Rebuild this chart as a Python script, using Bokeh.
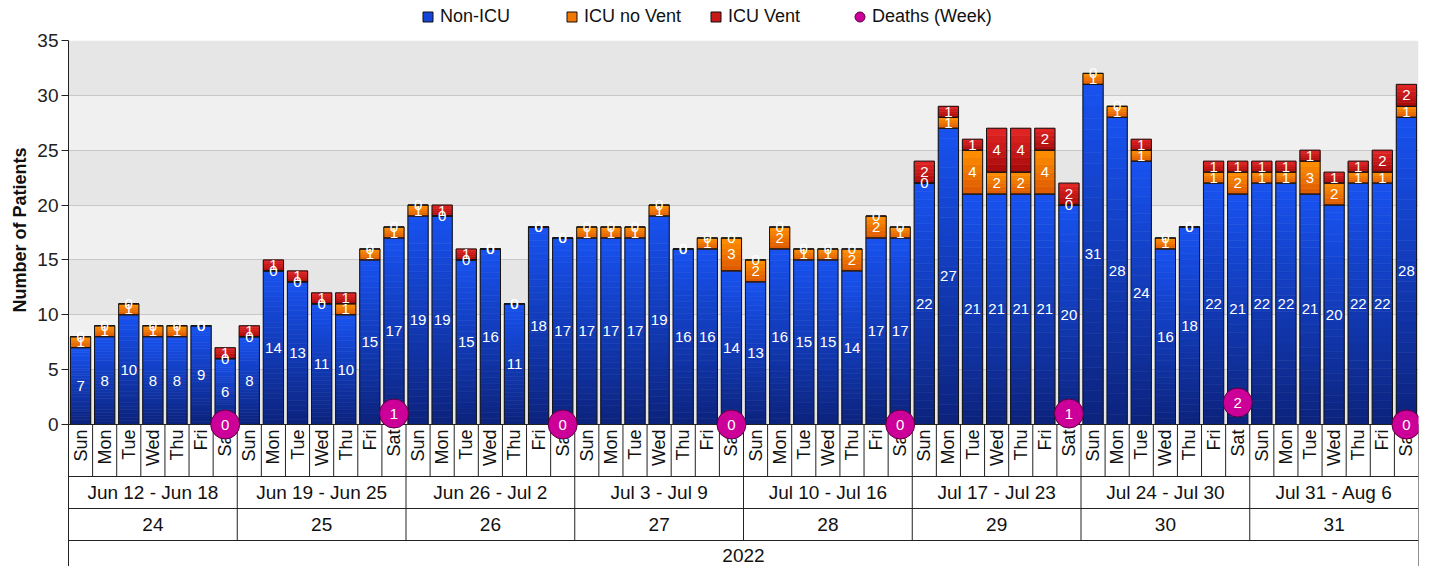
import numpy as np
from math import pi
from bokeh.plotting import figure
from bokeh.layouts import column
from bokeh.models import (ColumnDataSource, Range1d, FixedTicker, BoxAnnotation,
                          Legend, LegendItem, Title)
from bokeh.core.properties import value
from bokeh.embed import file_html
from bokeh.resources import INLINE

# ---------------- data ----------------
days = ["Sun", "Mon", "Tue", "Wed", "Thu", "Fri", "Sat"]
week_ranges = ["Jun 12 - Jun 18", "Jun 19 - Jun 25", "Jun 26 - Jul 2", "Jul 3 - Jul 9",
               "Jul 10 - Jul 16", "Jul 17 - Jul 23", "Jul 24 - Jul 30", "Jul 31 - Aug 6"]
week_numbers = ["24", "25", "26", "27", "28", "29", "30", "31"]
year_label = "2022"
series_names = ["Non-ICU", "ICU no Vent", "ICU Vent", "Deaths (Week)"]

non_icu = [7, 8, 10, 8, 8, 9, 6,
           8, 14, 13, 11, 10, 15, 17,
           19, 19, 15, 16, 11, 18, 17,
           17, 17, 17, 19, 16, 16, 14,
           13, 16, 15, 15, 14, 17, 17,
           22, 27, 21, 21, 21, 21, 20,
           31, 28, 24, 16, 18, 22, 21,
           22, 22, 21, 20, 22, 22, 28]
icu_no_vent = [1, 1, 1, 1, 1, 0, 0,
               0, 0, 0, 0, 1, 1, 1,
               1, 0, 0, 0, 0, 0, 0,
               1, 1, 1, 1, 0, 1, 3,
               2, 2, 1, 1, 2, 2, 1,
               0, 1, 4, 2, 2, 4, 0,
               1, 1, 1, 1, 0, 1, 2,
               1, 1, 3, 2, 1, 1, 1]
icu_vent = [0, 0, 0, 0, 0, 0, 1,
            1, 1, 1, 1, 1, 0, 0,
            0, 1, 1, 0, 0, 0, 0,
            0, 0, 0, 0, 0, 0, 0,
            0, 0, 0, 0, 0, 0, 0,
            2, 1, 1, 4, 4, 2, 2,
            0, 0, 1, 0, 0, 1, 1,
            1, 1, 1, 1, 1, 2, 2]
deaths_week = [0, 1, 0, 0, 0, 1, 2, 0]

# ---------------- layout constants ----------------
FONT = "Liberation Sans"
W = 1421
LEG_H = 30
TOP_PAD = 10
FRAME_H = 526
n = len(non_icu)
nweeks = len(week_ranges)
PXU = 384.0 / 35.0            # pixels per y unit
Y_BOT = 35 - FRAME_H / PXU
ROW1 = -52 / PXU               # bottom of day row
ROW2 = -84 / PXU               # bottom of week-range row
ROW3 = -116 / PXU              # bottom of week-number row

x = np.arange(n) + 0.5
non_icu_a = np.array(non_icu, dtype=float)
nv_a = np.array(icu_no_vent, dtype=float)
v_a = np.array(icu_vent, dtype=float)

p = figure(width=W, height=FRAME_H + TOP_PAD, x_range=Range1d(0, n),
           y_range=Range1d(Y_BOT, 35),
           output_backend="svg", toolbar_location=None, x_axis_type=None,
           min_border_left=68, min_border_right=3, min_border_top=TOP_PAD,
           min_border_bottom=0)
p.background_fill_color = "white"
p.border_fill_color = "white"
p.outline_line_color = None
p.xgrid.visible = False
p.ygrid.ticker = FixedTicker(ticks=[5, 10, 15, 20, 25, 30, 35])
p.ygrid.grid_line_color = "#c8c8c8"

# alternating background bands
for k in range(7):
    top = 35 - 5 * k
    p.add_layout(BoxAnnotation(bottom=top - 5, top=top,
                               fill_color="#e6e6e6" if k % 2 == 0 else "#f0f0f0",
                               fill_alpha=1, line_color=None, level="image"))

# y axis
ya = p.yaxis[0]
ya.ticker = FixedTicker(ticks=[0, 5, 10, 15, 20, 25, 30, 35])
ya.major_label_text_font = FONT
ya.major_label_text_font_size = "19px"
ya.major_label_text_color = "#222222"
ya.major_tick_out = 7
ya.major_tick_in = 0
ya.minor_tick_out = 0
ya.minor_tick_in = 0
ya.major_label_standoff = 3
ya.axis_line_color = "#222222"
ya.major_tick_line_color = "#222222"

p.add_layout(Title(text="Number of Patients", align="right", offset=107, standoff=10,
                   text_font=FONT, text_font_size="18px", text_font_style="bold",
                   text_color="#111111"), "left")


def hex2rgb(h):
    h = h.lstrip("#")
    return np.array([int(h[i:i + 2], 16) for i in (0, 2, 4)], dtype=float)


def rgb2hex(c):
    return "#%02x%02x%02x" % tuple(int(round(v)) for v in c)


BW = 0.84


def gradient(base, height, top_col, bot_col, steps):
    xs, bs, ts, cs = [], [], [], []
    tc, bc = hex2rgb(top_col), hex2rgb(bot_col)
    for i in range(n):
        h = height[i]
        if h <= 0:
            continue
        for k in range(steps):
            t = (k + 0.5) / steps
            xs.append(x[i])
            bs.append(base[i] + h * k / steps)
            ts.append(base[i] + h * (k + 1) / steps)
            cs.append(rgb2hex(bc + (tc - bc) * t))
    src = ColumnDataSource(dict(x=xs, bottom=bs, top=ts, color=cs))
    p.vbar(x="x", bottom="bottom", top="top", width=BW, source=src,
           fill_color="color", line_color="color", line_width=0.6)


b0 = np.zeros(n)
b1 = non_icu_a
b2 = non_icu_a + nv_a
b3 = b2 + v_a

gradient(b0, non_icu_a, "#1852f0", "#0c237c", 30)
gradient(b1, nv_a, "#ff9000", "#dc5800", 6)
gradient(b2, v_a, "#e42626", "#a60a0a", 6)

# segment outlines
for bot, top in ((b0, b1), (b1, b2), (b2, b3)):
    p.vbar(x=x, bottom=bot, top=top, width=BW, fill_alpha=0,
           line_color="#151515", line_width=1)

# segment labels
lab_x = np.concatenate([x, x, x])
lab_y = np.concatenate([non_icu_a / 2, b1 + nv_a / 2, b2 + v_a / 2])
lab_t = [str(v) for v in non_icu] + [str(v) for v in icu_no_vent] + [str(v) for v in icu_vent]
p.text(x=lab_x, y=lab_y, text=lab_t, text_color="white", text_font=value(FONT),
       text_font_size="15px", text_align="center", text_baseline="middle")

# ---------------- category table under the plot ----------------
sx0, sx1, sy0, sy1 = [], [], [], []
for yy in (0, ROW1, ROW2, ROW3):
    sx0.append(0); sx1.append(n); sy0.append(yy); sy1.append(yy)
for i in range(1, n):
    if i % 7 == 0:
        continue
    sx0.append(i); sx1.append(i); sy0.append(0); sy1.append(ROW1)
for w in range(1, nweeks):
    sx0.append(7 * w); sx1.append(7 * w); sy0.append(0); sy1.append(ROW3)
for xx in (0, n):
    sx0.append(xx); sx1.append(xx); sy0.append(0); sy1.append(Y_BOT)
p.segment(x0=sx0, y0=sy0, x1=sx1, y1=sy1, line_color="#222222", line_width=1)

day_t = [days[i % 7] for i in range(n)]
p.text(x=x, y=[-0.45] * n, text=day_t, angle=pi / 2, text_align="right",
       text_baseline="middle", text_font=value(FONT), text_font_size="18px",
       text_color="#111111")

wk_x = np.arange(nweeks) * 7 + 3.5
p.text(x=wk_x, y=[(ROW1 + ROW2) / 2] * nweeks, text=week_ranges, text_align="center",
       text_baseline="middle", text_font=value(FONT), text_font_size="19px",
       text_color="#111111")
p.text(x=wk_x, y=[(ROW2 + ROW3) / 2] * nweeks, text=week_numbers, text_align="center",
       text_baseline="middle", text_font=value(FONT), text_font_size="19px",
       text_color="#111111")
p.text(x=[n / 2], y=[-131 / PXU], text=[year_label], text_align="center",
       text_baseline="middle", text_font=value(FONT), text_font_size="19px",
       text_color="#111111")

# deaths (week) markers on Saturdays
dx = np.arange(nweeks) * 7 + 6.5
dsrc = ColumnDataSource(dict(x=dx, y=deaths_week, t=[str(d) for d in deaths_week]))
p.scatter(x="x", y="y", source=dsrc, marker="circle", size=29,
          fill_color="#cc0099", line_color="#5a0040", line_width=1)
p.text(x="x", y="y", text="t", source=dsrc, text_color="white", text_font=value(FONT),
       text_font_size="15px", text_align="center", text_baseline="middle")

# ---------------- legend (own strip above the plot) ----------------
lg = figure(width=W, height=LEG_H, x_range=Range1d(0, 1), y_range=Range1d(0, 1),
            output_backend="svg", toolbar_location=None, x_axis_type=None, y_axis_type=None,
            min_border_left=0, min_border_right=0, min_border_top=0, min_border_bottom=0)
lg.outline_line_color = None
lg.xgrid.visible = False
lg.ygrid.visible = False
lg.background_fill_color = "white"
lg.border_fill_color = "white"
# legend-key renderers: one off-range key each, only their legend swatch is seen
key_src = ColumnDataSource(dict(x=[5.0], y=[5.0]))
r_n = lg.scatter(x="x", y="y", source=key_src, marker="square",
                 fill_color="#1444d8", line_color="#111111")
r_nv = lg.scatter(x="x", y="y", source=key_src, marker="square",
                  fill_color="#f07800", line_color="#111111")
r_v = lg.scatter(x="x", y="y", source=key_src, marker="square",
                 fill_color="#c81818", line_color="#111111")
r_d = lg.scatter(x="x", y="y", source=key_src, marker="circle",
                 fill_color="#cc0099", line_color="#5a0040")
legend = Legend(items=[LegendItem(label=series_names[0], renderers=[r_n]),
                       LegendItem(label=series_names[1], renderers=[r_nv]),
                       LegendItem(label=series_names[2], renderers=[r_v]),
                       LegendItem(label=series_names[3], renderers=[r_d])],
                orientation="horizontal", location=(347, 1))
legend.label_text_font = FONT
legend.label_text_font_size = "18px"
legend.label_text_color = "#111111"
legend.glyph_width = 25
legend.glyph_height = 25
legend.label_standoff = -3
legend.label_width = 116
legend.spacing = 3
legend.padding = 2
legend.margin = 0
legend.border_line_color = None
legend.background_fill_alpha = 0
lg.add_layout(legend, "center")

layout = column(lg, p, spacing=0)
open("out.html", "w").write(file_html(layout, INLINE))
